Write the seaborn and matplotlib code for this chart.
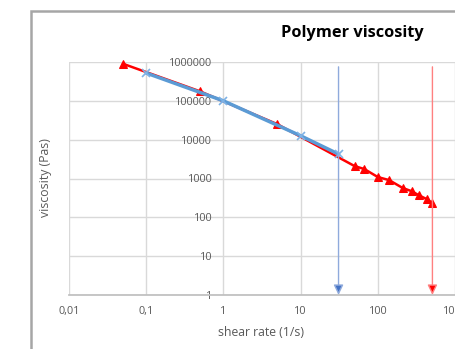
import pandas as pd
import numpy as np
import matplotlib.pyplot as plt
import seaborn as sns
from matplotlib.patches import Rectangle

red_rate = [0.05, 0.5, 5, 50, 67, 100, 140, 210, 275, 340, 430, 510]
red_visc = [900000, 175000, 25000, 2090, 1750, 1090, 910, 570, 470, 370, 295, 230]
blue_rate = [0.1, 1, 10, 31]
blue_visc = [520000, 100000, 12600, 4250]

# vertical marker lines (shear rate, top of line)
blue_cut = 31
red_cut = 510
cut_top = 750000

x_ticks = [0.01, 0.1, 1, 10, 100, 1000]
x_labels = ["0,01", "0,1", "1", "10", "100", "1000"]
y_ticks = [1, 10, 100, 1000, 10000, 100000, 1000000]
y_labels = ["1", "10", "100", "1000", "10000", "100000", "1000000"]

sns.set_theme(style="white")
plt.rcParams['font.family'] = ['Open Sans', 'DejaVu Sans']

fig = plt.figure(figsize=(4.55, 3.49), dpi=100)
ax = fig.add_axes([69 / 455, 1 - 295 / 349, (455 - 69) / 455, (295 - 62) / 349])

red = pd.DataFrame({"rate": red_rate, "visc": red_visc})
blue = pd.DataFrame({"rate": blue_rate, "visc": blue_visc})

sns.lineplot(data=red, x="rate", y="visc", ax=ax, color="#FF0000", lw=1.8,
             marker="^", markersize=5.5, markeredgecolor="#FF0000", zorder=3,
             clip_on=False)
sns.lineplot(data=blue, x="rate", y="visc", ax=ax, color="#5B9BD5", lw=2.5,
             marker="x", markersize=6, markeredgewidth=1.2, markeredgecolor="#7FB2E5",
             zorder=4)

ax.set_xscale("log")
ax.set_yscale("log")
ax.set_xlim(0.01, 1000)
ax.set_ylim(1, 1000000)

arrow = "-|>,head_length=0.75,head_width=0.36"
ax.annotate("", xy=(blue_cut, 1), xytext=(blue_cut, cut_top),
            arrowprops=dict(arrowstyle=arrow, lw=1, ec="#8FAADC", fc="#4472C4",
                            mutation_scale=8, shrinkA=0, shrinkB=0), zorder=5)
ax.annotate("", xy=(red_cut, 1), xytext=(red_cut, cut_top),
            arrowprops=dict(arrowstyle=arrow, lw=1, ec="#FF8080", fc="#FF0000",
                            mutation_scale=8, shrinkA=0, shrinkB=0), zorder=5)

ax.set_xticks(x_ticks)
ax.set_xticklabels(x_labels)
ax.set_yticks(y_ticks)
ax.set_yticklabels(y_labels)
ax.minorticks_off()
ax.grid(True, color="#D9D9D9", lw=1)
ax.set_axisbelow(True)

# vertical axis crosses at shear rate = 1
ax.spines["left"].set_position(("data", 1))
ax.spines["left"].set_visible(False)
ax.spines["right"].set_visible(False)
ax.spines["top"].set_visible(False)
ax.spines["bottom"].set_color("#BFBFBF")
ax.tick_params(axis="both", length=0, labelsize=7.8, labelcolor="#595959")
ax.tick_params(axis="y", pad=8)
ax.tick_params(axis="x", pad=8)

ax.set_xlabel("")
ax.set_ylabel("")
fig.text(261 / 455, 1 - 333 / 349, "shear rate (1/s)", ha="center", va="center",
         fontsize=8.8, color="#595959")
fig.text(45 / 455, 1 - 178 / 349, "viscosity (Pas)", ha="center", va="center",
         rotation=90, fontsize=8.8, color="#595959")
fig.text(352 / 455, 1 - 33 / 349, "Polymer viscosity", ha="center", va="center",
         fontsize=11.8, fontweight="bold", color="black")

fig.patches.append(Rectangle((30.5 / 455, -0.1), 1.0, 1 - 11 / 349 + 0.1,
                             transform=fig.transFigure, fill=False,
                             ec="#A6A6A6", lw=1.8))

fig.savefig("out.png", dpi=100)
